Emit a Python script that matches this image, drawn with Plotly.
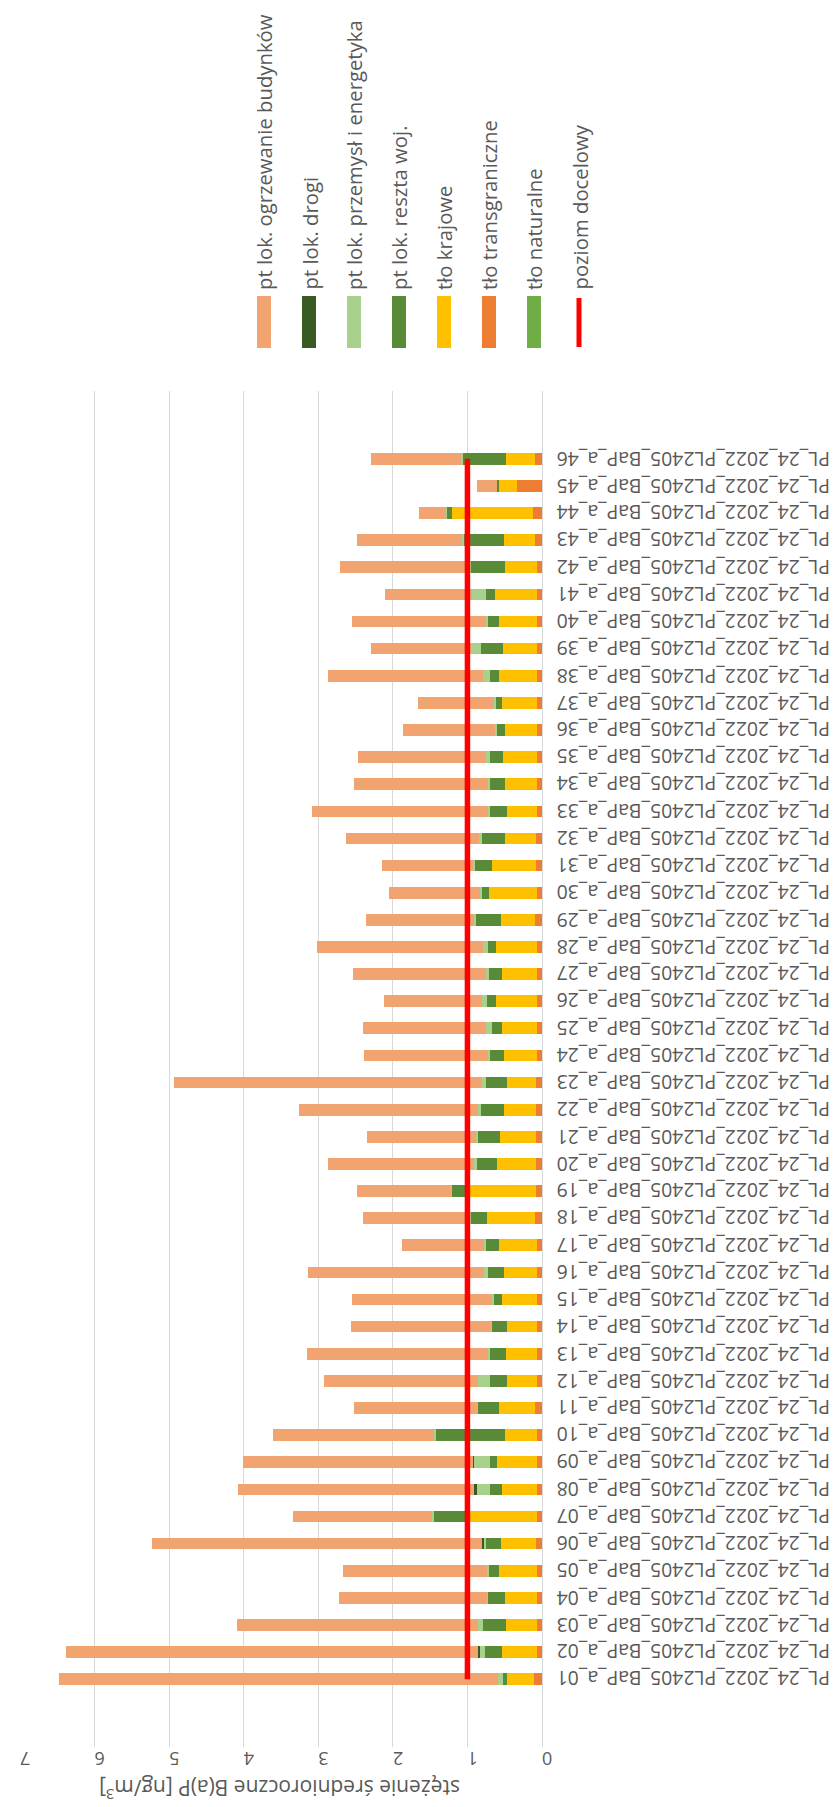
import plotly.graph_objects as go

# strona html ma 8px marginesu -> figura mniejsza o tyle, pozycje liczone w px ekranu
OFF = 8
W, H = 838 - OFF, 1807 - OFF
L, R, T, B = 20 - OFF, W - (542 - OFF), 391 - OFF, H - (1747 - OFF)

kategorie = [f"PL_24_2022_PL2405_BaP_a_{i:02d}" for i in range(1, 47)]

# wartosci skladowych [ng/m3], a_01 ... a_46
tlo_naturalne = [0.005] * 46
tlo_transgraniczne = [0.10, 0.067, 0.067, 0.067, 0.057, 0.081, 0.067, 0.067, 0.057, 0.067,
                      0.086, 0.067, 0.067, 0.067, 0.057, 0.067, 0.067, 0.091, 0.081, 0.081,
                      0.081, 0.081, 0.081, 0.067, 0.067, 0.067, 0.067, 0.067, 0.086, 0.057,
                      0.081, 0.081, 0.067, 0.067, 0.067, 0.057, 0.057, 0.067, 0.067, 0.067,
                      0.067, 0.067, 0.086, 0.11, 0.326, 0.086]
tlo_krajowe = [0.37, 0.47, 0.41, 0.42, 0.51, 0.47, 0.93, 0.46, 0.54, 0.42,
               0.49, 0.40, 0.41, 0.40, 0.48, 0.44, 0.50, 0.64, 0.90, 0.52,
               0.48, 0.43, 0.39, 0.44, 0.46, 0.55, 0.47, 0.55, 0.455, 0.65,
               0.58, 0.41, 0.40, 0.42, 0.45, 0.43, 0.47, 0.50, 0.45, 0.50,
               0.555, 0.42, 0.42, 1.09, 0.25, 0.39]
reszta_woj = [0.05, 0.22, 0.31, 0.235, 0.15, 0.19, 0.45, 0.17, 0.10, 0.93,
              0.28, 0.225, 0.215, 0.20, 0.10, 0.21, 0.18, 0.22, 0.225, 0.275,
              0.29, 0.30, 0.27, 0.18, 0.14, 0.115, 0.17, 0.10, 0.345, 0.10,
              0.24, 0.315, 0.22, 0.215, 0.17, 0.115, 0.095, 0.12, 0.29, 0.16,
              0.12, 0.47, 0.54, 0.075, 0.02, 0.59]
przemysl = [0.06, 0.08, 0.06, 0.015, 0.02, 0.04, 0.025, 0.18, 0.21, 0.02,
            0.015, 0.16, 0.03, 0.015, 0.03, 0.06, 0.025, 0.015, 0.015, 0.025,
            0.03, 0.04, 0.06, 0.03, 0.08, 0.065, 0.035, 0.065, 0.025, 0.02,
            0.015, 0.035, 0.035, 0.02, 0.06, 0.03, 0.02, 0.095, 0.135, 0.02,
            0.195, 0.01, 0.02, 0.005, 0.0, 0.01]
drogi = [0.0, 0.01, 0.0, 0.0, 0.0, 0.015, 0.0, 0.025, 0.015, 0.0,
         0.0, 0.0, 0.0, 0.0, 0.0, 0.0, 0.0, 0.0, 0.0, 0.0,
         0.0, 0.0, 0.0, 0.0, 0.0, 0.0, 0.0, 0.0, 0.0, 0.0,
         0.0, 0.0, 0.0, 0.0, 0.0, 0.0, 0.0, 0.0, 0.0, 0.0,
         0.0, 0.0, 0.0, 0.0, 0.0, 0.0]
ogrzewanie = [5.89, 5.53, 3.24, 1.98, 1.93, 4.43, 1.86, 3.17, 3.08, 2.16,
              1.65, 2.07, 2.42, 1.87, 1.88, 2.36, 1.10, 1.43, 1.26, 1.96,
              1.455, 2.40, 4.13, 1.66, 1.65, 1.32, 1.79, 2.23, 1.44, 1.22,
              1.22, 1.78, 2.355, 1.79, 1.71, 1.225, 1.015, 2.08, 1.34, 1.795,
              1.17, 1.74, 1.41, 0.36, 0.27, 1.21]
POZIOM_DOCELOWY = 1.0

# od osi (0) na zewnatrz
serie = [
    ("tło naturalne", tlo_naturalne, "#70AD47"),
    ("tło transgraniczne", tlo_transgraniczne, "#ED7D31"),
    ("tło krajowe", tlo_krajowe, "#FFC000"),
    ("pt lok. reszta woj.", reszta_woj, "#588A37"),
    ("pt lok. przemysł i energetyka", przemysl, "#A9D18E"),
    ("pt lok. drogi", drogi, "#3A5A23"),
    ("pt lok. ogrzewanie budynków", ogrzewanie, "#F1A46F"),
]

FONT = "Open Sans, Liberation Sans, sans-serif"
GREY = "#595959"

fig = go.Figure()
for name, vals, col in serie:
    fig.add_trace(go.Bar(y=kategorie, x=vals, name=name, orientation="h",
                         marker=dict(color=col, line=dict(width=0))))

fig.add_trace(go.Scatter(y=kategorie, x=[POZIOM_DOCELOWY] * len(kategorie),
                         mode="lines", name="poziom docelowy",
                         line=dict(color="#FF0000", width=5.5)))

# px ekranu -> paper
pw, ph = W - L - R, H - T - B
def px_x(p): return (p - OFF - L) / pw
def px_y(p): return (H - B - (p - OFF)) / ph

legenda = [(n, c) for n, _, c in serie[::-1]] + [("poziom docelowy", "#FF0000")]
shapes = []
annotations = []
for i, (name, col) in enumerate(legenda):
    cx = 264 + i * 45
    if name == "poziom docelowy":
        shapes.append(dict(type="line", xref="paper", yref="paper",
                           x0=px_x(cx), x1=px_x(cx), y0=px_y(298), y1=px_y(347),
                           line=dict(color=col, width=5)))
    else:
        shapes.append(dict(type="rect", xref="paper", yref="paper",
                           x0=px_x(cx - 7), x1=px_x(cx + 7), y0=px_y(348), y1=px_y(296),
                           fillcolor=col, line=dict(width=0)))
    annotations.append(dict(text=name, xref="paper", yref="paper",
                            x=px_x(cx), y=px_y(292), xanchor="center", yanchor="bottom",
                            textangle=-90, showarrow=False,
                            font=dict(family=FONT, size=20.3, color=GREY)))

# etykiety kategorii do gory nogami
for k in kategorie:
    annotations.append(dict(text=k, xref="paper", yref="y", x=px_x(555), y=k,
                            xanchor="left", yanchor="middle", textangle=180,
                            showarrow=False, font=dict(family=FONT, size=19.4, color=GREY)))

annotations.append(dict(text="stężenie średnioroczne B(a)P [ng/m<sup>3</sup>]",
                        xref="paper", yref="paper", x=px_x(280), y=px_y(1790),
                        xanchor="center", yanchor="middle", textangle=180,
                        showarrow=False, font=dict(family=FONT, size=21, color=GREY)))

fig.update_layout(
    width=W, height=H, barmode="stack", bargap=0.57,
    margin=dict(l=L, r=R, t=T, b=B, autoexpand=False),
    paper_bgcolor="white", plot_bgcolor="white",
    showlegend=False, shapes=shapes, annotations=annotations,
    font=dict(family=FONT, color=GREY),
)
fig.update_xaxes(range=[7, 0], dtick=1, showgrid=True, gridcolor="#D9D9D9", gridwidth=1,
                 zeroline=False, tickangle=180, tickfont=dict(size=18, color=GREY),
                 ticks="", ticklabelstandoff=4, automargin=False)
fig.update_yaxes(type="category", side="right", showticklabels=False,
                 showline=True, linecolor="#D9D9D9", linewidth=1,
                 ticks="", automargin=False)

fig.write_html("out.html")
